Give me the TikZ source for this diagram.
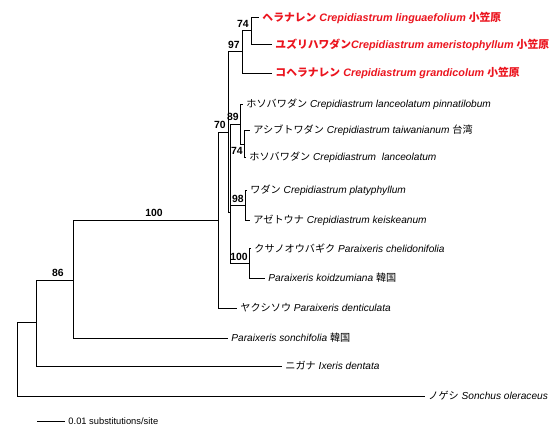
\documentclass[tikz,border=0pt]{standalone}
\usepackage{fontspec}
\setmainfont{Liberation Sans}
\newfontfamily\jpfont{Noto Sans CJK JP}
\newcommand{\J}[1]{{\jpfont #1}}
\newcommand{\I}[1]{\textit{#1}}
\newcommand{\fs}{\fontsize{7.6pt}{9pt}\selectfont}
\newcommand{\rfs}{\fontsize{8.1pt}{9.5pt}\selectfont\bfseries}
\newcommand{\bfs}{\fontsize{7.8pt}{9pt}\selectfont\bfseries}
\newcommand{\sfs}{\fontsize{7pt}{8.5pt}\selectfont}
\definecolor{redlab}{RGB}{235,20,30}
\begin{document}
\begin{tikzpicture}[x=0.75pt,y=-0.75pt,
  br/.style={line width=0.75pt,black},
  tx/.style={anchor=west,inner xsep=2.4pt,inner ysep=0pt,font=\fs},
  rtx/.style={tx,text=redlab,font=\rfs},
  bsl/.style={font=\bfs,inner sep=0pt}]
\useasboundingbox (0,0) rectangle (552,428);
% internal nodes
\coordinate (root) at (17,359);
\coordinate (n1) at (36,322);
\coordinate (n86) at (73,280);
\coordinate (n100) at (218,220);
\coordinate (n70) at (228,132);
\coordinate (n97) at (242,52);
\coordinate (n74a) at (251,31);
\coordinate (npoly) at (230,212);
\coordinate (n89) at (240,124);
\coordinate (n74b) at (244,144);
\coordinate (n98) at (245,205);
\coordinate (n100b) at (249,263);
% leaves
\node[rtx] (l1) at (259,18) {\J{ヘラナレン} \I{Crepidiastrum linguaefolium} \J{小笠原}};
\node[rtx] (l2) at (272,45) {\J{ユズリハワダン}\I{Crepidiastrum ameristophyllum} \J{小笠原}};
\node[rtx] (l3) at (272,73) {\J{コヘラナレン} \I{Crepidiastrum grandicolum} \J{小笠原}};
\node[tx] (l4) at (243,104) {\J{ホソバワダン} \I{Crepidiastrum lanceolatum pinnatilobum}};
\node[tx] (l5) at (250,130) {\J{アシブトワダン} \I{Crepidiastrum taiwanianum} \J{台湾}};
\node[tx] (l6) at (246,157) {\J{ホソバワダン} \I{Crepidiastrum\ \ lanceolatum}};
\node[tx] (l7) at (247,190) {\J{ワダン} \I{Crepidiastrum platyphyllum}};
\node[tx] (l8) at (250,220) {\J{アゼトウナ} \I{Crepidiastrum keiskeanum}};
\node[tx] (l9) at (251,248) {\J{クサノオウバギク} \I{Paraixeris chelidonifolia}};
\node[tx] (l10) at (265,278) {\I{Paraixeris koidzumiana} \J{韓国}};
\node[tx] (l11) at (237,308) {\J{ヤクシソウ} \I{Paraixeris denticulata}};
\node[tx] (l12) at (228,338) {\I{Paraixeris sonchifolia} \J{韓国}};
\node[tx] (l13) at (282,366) {\J{ニガナ} \I{Ixeris dentata}};
\node[tx] (l14) at (425,396) {\J{ノゲシ} \I{Sonchus oleraceus}};
% branches
\draw[br] (root) |- (n1);
\draw[br] (root) |- (l14.west);
\draw[br] (n1) |- (n86);
\draw[br] (n1) |- (l13.west);
\draw[br] (n86) |- (n100);
\draw[br] (n86) |- (l12.west);
\draw[br] (n100) |- (n70);
\draw[br] (n100) |- (l11.west);
\draw[br] (n70) |- (n97);
\draw[br] (n70) |- (npoly);
\draw[br] (n97) |- (n74a);
\draw[br] (n97) |- (l3.west);
\draw[br] (n74a) |- (l1.west);
\draw[br] (n74a) |- (l2.west);
\draw[br] (npoly) |- (n89);
\draw[br] (npoly) |- (n98);
\draw[br] (npoly) |- (n100b);
\draw[br] (n89) |- (l4.west);
\draw[br] (n89) |- (n74b);
\draw[br] (n74b) |- (l5.west);
\draw[br] (n74b) |- (l6.west);
\draw[br] (n98) |- (l7.west);
\draw[br] (n98) |- (l8.west);
\draw[br] (n100b) |- (l9.west);
\draw[br] (n100b) |- (l10.west);
% bootstrap values
\node[bsl,anchor=south] (b86) at (58,277) {86};
\node[bsl,anchor=south] (b100) at (154,217) {100};
\node[bsl,anchor=south east] (b70) at (226,129) {70};
\node[bsl,anchor=south east] (b97) at (240,49) {97};
\node[bsl,anchor=south east] (b74a) at (249,28) {74};
\node[bsl,anchor=south east] (b89) at (239,121) {89};
\node[bsl,anchor=north east] (b74b) at (243,147) {74};
\node[bsl,anchor=south east] (b98) at (244,203) {98};
\node[bsl,anchor=south east] (b100b) at (248,261) {100};
% scale bar
\coordinate (s0) at (37,421);
\node[tx,font=\sfs] (sl) at (65,421) {0.01 substitutions/site};
\draw[br] (s0) -- (sl.west);
\end{tikzpicture}
\end{document}
